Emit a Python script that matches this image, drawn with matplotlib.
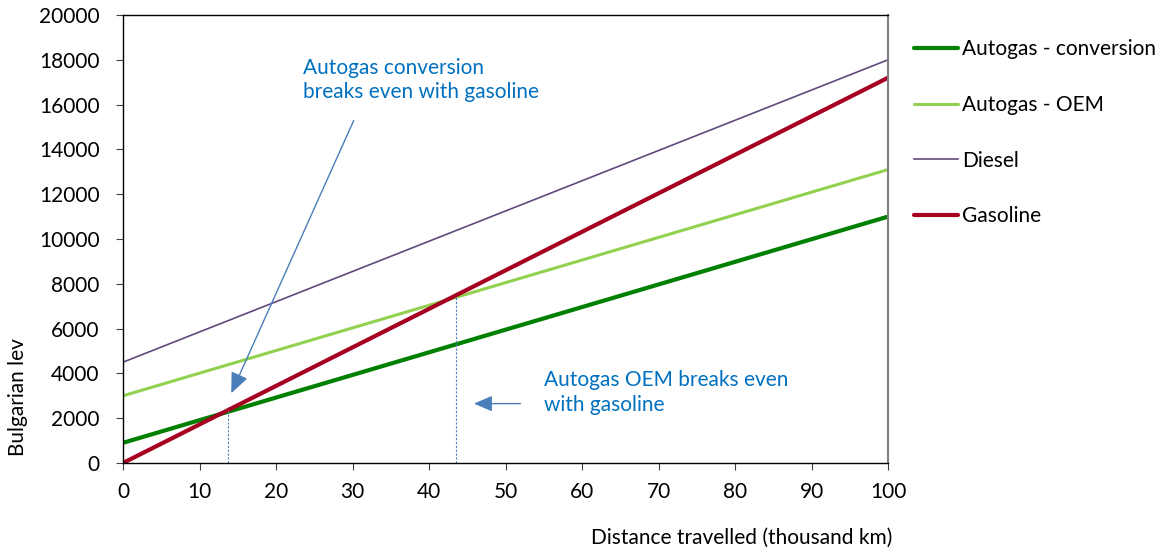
import matplotlib
matplotlib.use("Agg")
import matplotlib.pyplot as plt

plt.rcParams['font.family'] = ['Lato', 'DejaVu Sans']

distance = [0, 10, 20, 30, 40, 50, 60, 70, 80, 90, 100]
autogas_conversion = [900, 1910, 2920, 3930, 4940, 5950, 6960, 7970, 8980, 9990, 11000]
autogas_oem = [3000, 4010, 5020, 6030, 7040, 8050, 9060, 10070, 11080, 12090, 13100]
diesel = [4500, 5850, 7200, 8550, 9900, 11250, 12600, 13950, 15300, 16650, 18000]
gasoline = [0, 1720, 3440, 5160, 6880, 8600, 10320, 12040, 13760, 15480, 17200]

breakeven_x = [13.7, 43.5]
breakeven_y = [2330, 7450]

FS = 15

fig = plt.figure(figsize=(11.67, 5.55), dpi=100)
ax = fig.add_axes([0.1054, 0.1658, 0.6556, 0.8072])

ax.plot(distance, autogas_conversion, color='#008000', lw=3.0, label='Autogas - conversion', solid_capstyle='round')
ax.plot(distance, autogas_oem, color='#92D050', lw=2.2, label='Autogas - OEM', solid_capstyle='round')
ax.plot(distance, diesel, color='#604A7B', lw=1.2, label='Diesel')
ax.plot(distance, gasoline, color='#A50021', lw=3.0, label='Gasoline', solid_capstyle='round')

for bx, by in zip(breakeven_x, breakeven_y):
    ax.plot([bx, bx], [0, by], color='#4F81BD', lw=0.8, ls=(0, (2, 1.5)))

ax.set_xlim(0, 100)
ax.set_ylim(0, 20000)
ax.set_xticks(range(0, 101, 10))
ax.set_yticks(range(0, 20001, 2000))
ax.tick_params(axis='both', labelsize=FS, length=5, direction='out', color='#404040')
ax.tick_params(axis='x', pad=9)
ax.tick_params(axis='y', pad=12)
for s in ['left', 'bottom', 'top']:
    ax.spines[s].set_color('black')
    ax.spines[s].set_linewidth(1.0)
ax.spines['right'].set_color('#808080')
ax.spines['right'].set_linewidth(1.5)

ax.set_xlabel('Distance travelled (thousand km)', fontsize=FS)
ax.xaxis.set_label_coords(1.006, -0.145)
ax.xaxis.label.set_horizontalalignment('right')
ax.set_ylabel('Bulgarian lev', fontsize=FS)
ax.yaxis.set_label_coords(-0.124, 0.147)

txt_color = '#0070C0'
arrow_color = '#4A7EBB'
ax.text(23.5, 18100, 'Autogas conversion\nbreaks even with gasoline', color=txt_color,
        fontsize=FS, va='top', ha='left', linespacing=1.3)
ax.annotate('', xy=(14.0, 3000), xytext=(30.3, 15400),
            arrowprops=dict(arrowstyle='-|>,head_length=0.7,head_width=0.3', color=arrow_color, lw=1.0, mutation_scale=18))
ax.text(55.0, 4150, 'Autogas OEM breaks even\nwith gasoline', color=txt_color,
        fontsize=FS, va='top', ha='left', linespacing=1.3)
ax.annotate('', xy=(45.5, 2650), xytext=(52.3, 2650),
            arrowprops=dict(arrowstyle='-|>,head_length=0.7,head_width=0.3', color=arrow_color, lw=1.0, mutation_scale=16))

leg = ax.legend(loc='upper left', bbox_to_anchor=(1.023, 0.965), frameon=False, fontsize=FS,
                handlelength=2.1, handletextpad=0.2, labelspacing=1.72, borderaxespad=0)

fig.savefig('out.png', dpi=100)
